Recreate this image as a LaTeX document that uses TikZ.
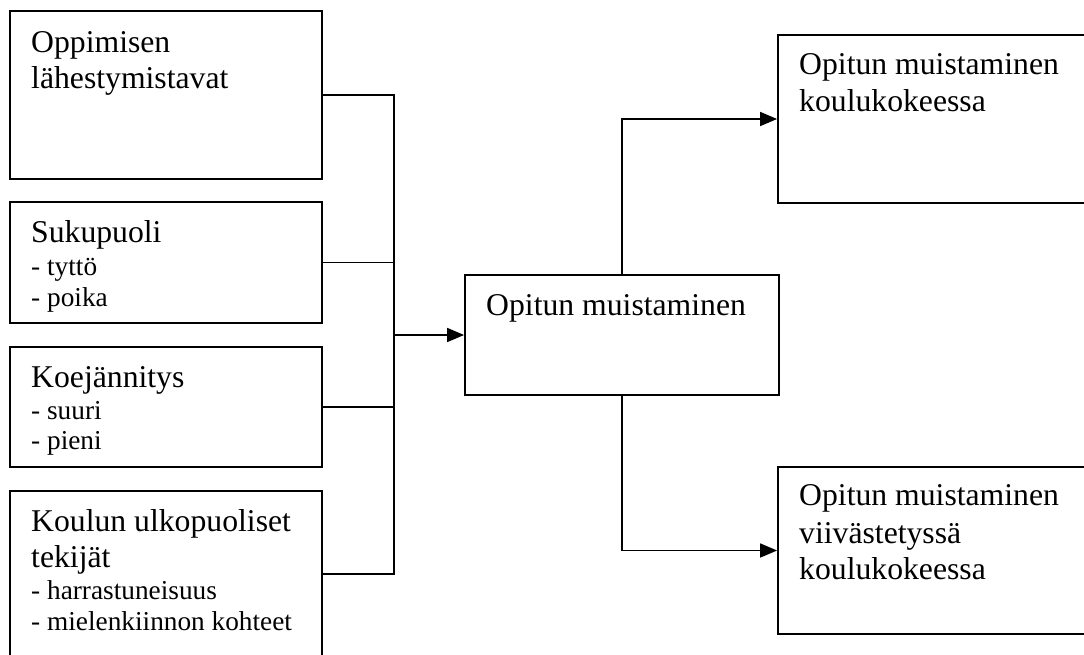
\documentclass[tikz,border=0pt]{standalone}
\usepackage{fontspec}
\setmainfont{Liberation Serif}
\usetikzlibrary{arrows.meta}
\begin{document}
\begin{tikzpicture}[x=1pt,y=-1pt,
  box/.style={draw=black, line width=1.8pt, rectangle, inner sep=0pt},
  conn/.style={draw=black, line width=1.6pt},
  arr/.style={conn, -{Triangle[length=17pt,width=14pt]}},
  big/.style={anchor=base west, inner sep=0pt, font=\fontsize{31.7}{37}\selectfont},
  small/.style={anchor=base west, inner sep=0pt, font=\fontsize{27.3}{31}\selectfont}]
\clip (0,0) rectangle (1084,654);
\fill[white] (0,0) rectangle (1084,654);

% left boxes
\node[box, minimum width=312pt, minimum height=168pt] (b1) at (166,95) {};
\node[box, minimum width=312pt, minimum height=121pt] (b2) at (166,262.5) {};
\node[box, minimum width=312pt, minimum height=120pt] (b3) at (166,407) {};
\node[box, minimum width=312pt, minimum height=166pt] (b4) at (166,574) {};

% middle and right boxes
\node[box, minimum width=314pt, minimum height=120pt] (mid) at (622,335) {};
\node[box, minimum width=322pt, minimum height=168pt] (r1) at (939,119) {};
\node[box, minimum width=322pt, minimum height=167pt] (r2) at (939,550.5) {};

% texts
\node[big] (t1a) at (31,52) {Oppimisen};
\node[big] (t1b) at (31,88) {lähestymistavat};

\node[big] (t2a) at (31,242) {Sukupuoli};
\node[small] (t2b) at (31,275) {- tyttö};
\node[small] (t2c) at (31,306) {- poika};

\node[big] (t3a) at (31,387) {Koejännitys};
\node[small] (t3b) at (31,419) {- suuri};
\node[small] (t3c) at (31,449) {- pieni};

\node[big] (t4a) at (31,531) {Koulun ulkopuoliset};
\node[big] (t4b) at (31,567) {tekijät};
\node[small] (t4c) at (31,599) {- harrastuneisuus};
\node[small] (t4d) at (31,630) {- mielenkiinnon kohteet};

\node[big] (tm) at (486,315) {Opitun muistaminen};

\node[big] (tr1a) at (799,74) {Opitun muistaminen};
\node[big] (tr1b) at (799,111) {koulukokeessa};

\node[big] (tr2a) at (799,505) {Opitun muistaminen};
\node[big] (tr2b) at (799,543) {viivästetyssä};
\node[big] (tr2c) at (799,579) {koulukokeessa};

% connectors
\coordinate (J) at (394,335);
\draw[conn] (b1.east) -| (J);
\draw[conn] (b4.east) -| (J);
\draw[conn] (b2.east) -- (b2.east -| J);
\draw[conn] (b3.east) -- (b3.east -| J);
\draw[arr] (J) -- (mid.west);
\draw[arr] (mid.north) |- (r1.west);
\draw[arr] (mid.south) |- (r2.west);
\end{tikzpicture}
\end{document}
